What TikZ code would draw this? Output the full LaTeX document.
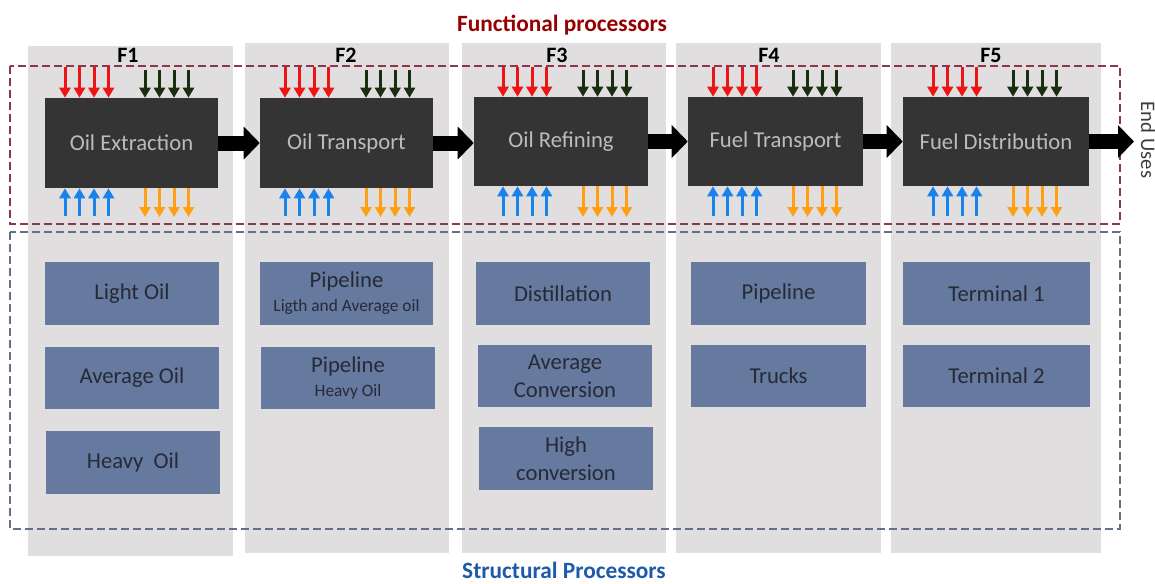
\documentclass[tikz,border=0pt]{standalone}
\usepackage{fontspec}
\setmainfont{Carlito}
\usetikzlibrary{arrows.meta}

\definecolor{colgray}{RGB}{225,222,224}
\definecolor{procfill}{RGB}{52,52,52}
\definecolor{proctext}{RGB}{188,188,188}
\definecolor{strfill}{RGB}{102,121,158}
\definecolor{strtext}{RGB}{38,42,55}
\definecolor{arrred}{RGB}{238,20,20}
\definecolor{arrgreen}{RGB}{25,45,15}
\definecolor{arrblue}{RGB}{25,130,235}
\definecolor{arrorange}{RGB}{255,160,20}
\definecolor{funcred}{RGB}{150,0,0}
\definecolor{structblue}{RGB}{30,90,170}
\definecolor{funcdash}{RGB}{140,55,75}
\definecolor{structdash}{RGB}{100,112,135}
\definecolor{endtext}{RGB}{60,60,60}

\begin{document}
\begin{tikzpicture}[
  x=0.75pt, y=-0.75pt,
  dim/.style 2 args={minimum width=#1*0.75pt, minimum height=#2*0.75pt},
  procbox/.style={fill=procfill, text=proctext, inner sep=0pt,
    font=\fontsize{17}{20}\selectfont},
  strbox/.style={fill=strfill, text=strtext, inner sep=0pt, align=center,
    font=\fontsize{17}{21}\selectfont},
  flabel/.style={font=\bfseries\fontsize{16.5}{20}\selectfont, anchor=base},
  frametitle/.style={font=\bfseries\fontsize{17.5}{21}\selectfont, anchor=base},
  bigarrow/.style={draw=black, line width=11.25pt,
    -{Triangle[length=12pt,width=24pt]}},
  smallarr/.style={line width=2.25pt, -{Triangle[length=7.5pt,width=8.25pt]}},
  funcframe/.style={draw=funcdash, line width=1pt, dash pattern=on 6pt off 3pt},
  structframe/.style={draw=structdash, line width=1pt, dash pattern=on 6pt off 3pt},
]
\useasboundingbox[fill=white] (0,0) rectangle (1155,583);

% column backgrounds
\foreach \l/\t/\r/\b in {28/46/233/556, 245/43/449/553, 462/43/666/553,
                         676/43/881/553, 891/43/1101/553}
  \fill[colgray] (\l,\t) rectangle (\r,\b);

% dashed frames
\draw[funcframe] (10,66) rectangle (1120,224);
\draw[structframe] (10,232) rectangle (1120,529);

% titles
\node[frametitle, text=funcred] (ftitle) at (562,31) {Functional processors};
\node[frametitle, text=structblue] (stitle) at (564,578) {Structural Processors};

% column labels
\node[flabel] (f1) at (128,62) {F1};
\node[flabel] (f2) at (346,62) {F2};
\node[flabel] (f3) at (557,62) {F3};
\node[flabel] (f4) at (769,62) {F4};
\node[flabel] (f5) at (991,62) {F5};

% functional processors
\node[procbox, dim={173}{90}] (p1) at (131.5,143) {Oil Extraction};
\node[procbox, dim={173}{90}] (p2) at (346.5,143) {Oil Transport};
\node[procbox, dim={174}{89}] (p3) at (561,141.5) {Oil Refining};
\node[procbox, dim={175}{89}] (p4) at (775.5,141.5) {Fuel Transport};
\node[procbox, dim={186}{89}] (p5) at (996,141.5) {Fuel Distribution};

% flows between processors
\draw[bigarrow] (p1.east) -- (p1.east -| p2.west);
\draw[bigarrow] (p2.east) -- (p2.east -| p3.west);
\draw[bigarrow] (p3.east) -- (p4.west);
\draw[bigarrow] (p4.east) -- (p5.west);
\coordinate (enduse) at (1134,141.5);
\draw[bigarrow] (p5.east) -- (enduse);
\node[rotate=-90, anchor=base, text=endtext, font=\fontsize{15.5}{18}\selectfont]
  (eu) at (1141,140) {End Uses};

% inputs and outputs of each processor
\foreach \p/\rx/\gx in {p1/65/145, p2/285/366, p3/503/583, p4/713/793, p5/933/1013} {
  \foreach \k in {0,...,3} {
    \draw[smallarr, arrred]    ({\rx+\k*14.5},67)  -- ({\rx+\k*14.5},0 |- \p.north);
    \draw[smallarr, arrgreen]  ({\gx+\k*14.5},70)  -- ({\gx+\k*14.5},0 |- \p.north);
    \draw[smallarr, arrblue]   ({\rx+\k*14.5},216) -- ({\rx+\k*14.5},0 |- \p.south);
    \draw[smallarr, arrorange] ({\gx+\k*14.5},0 |- \p.south) -- ({\gx+\k*14.5},217);
  }
}

% structural processors
\node[strbox, dim={174}{63}] (s11) at (132,293.5) {Light Oil};
\node[strbox, dim={174}{62}] (s12) at (132,378) {Average Oil};
\node[strbox, dim={174}{63}] (s13) at (133,462.5) {Heavy\ \ Oil};

\node[strbox, dim={173}{63}] (s21) at (346.5,293.5)
  {Pipeline\\[-3pt]{\fontsize{13}{15}\selectfont Ligth and Average oil}};
\node[strbox, dim={174}{62}] (s22) at (348,378)
  {Pipeline\\[-3pt]{\fontsize{13}{15}\selectfont Heavy Oil}};

\node[strbox, dim={174}{63}] (s31) at (563,293.5) {Distillation};
\node[strbox, dim={174}{62}] (s32) at (565,376) {Average\\Conversion};
\node[strbox, dim={174}{63}] (s33) at (566,458.5) {High\\conversion};

\node[strbox, dim={175}{63}] (s41) at (778.5,293.5) {Pipeline};
\node[strbox, dim={175}{62}] (s42) at (778.5,376) {Trucks};

\node[strbox, dim={187}{63}] (s51) at (996.5,293.5) {Terminal 1};
\node[strbox, dim={187}{62}] (s52) at (996.5,376) {Terminal 2};
\end{tikzpicture}
\end{document}
